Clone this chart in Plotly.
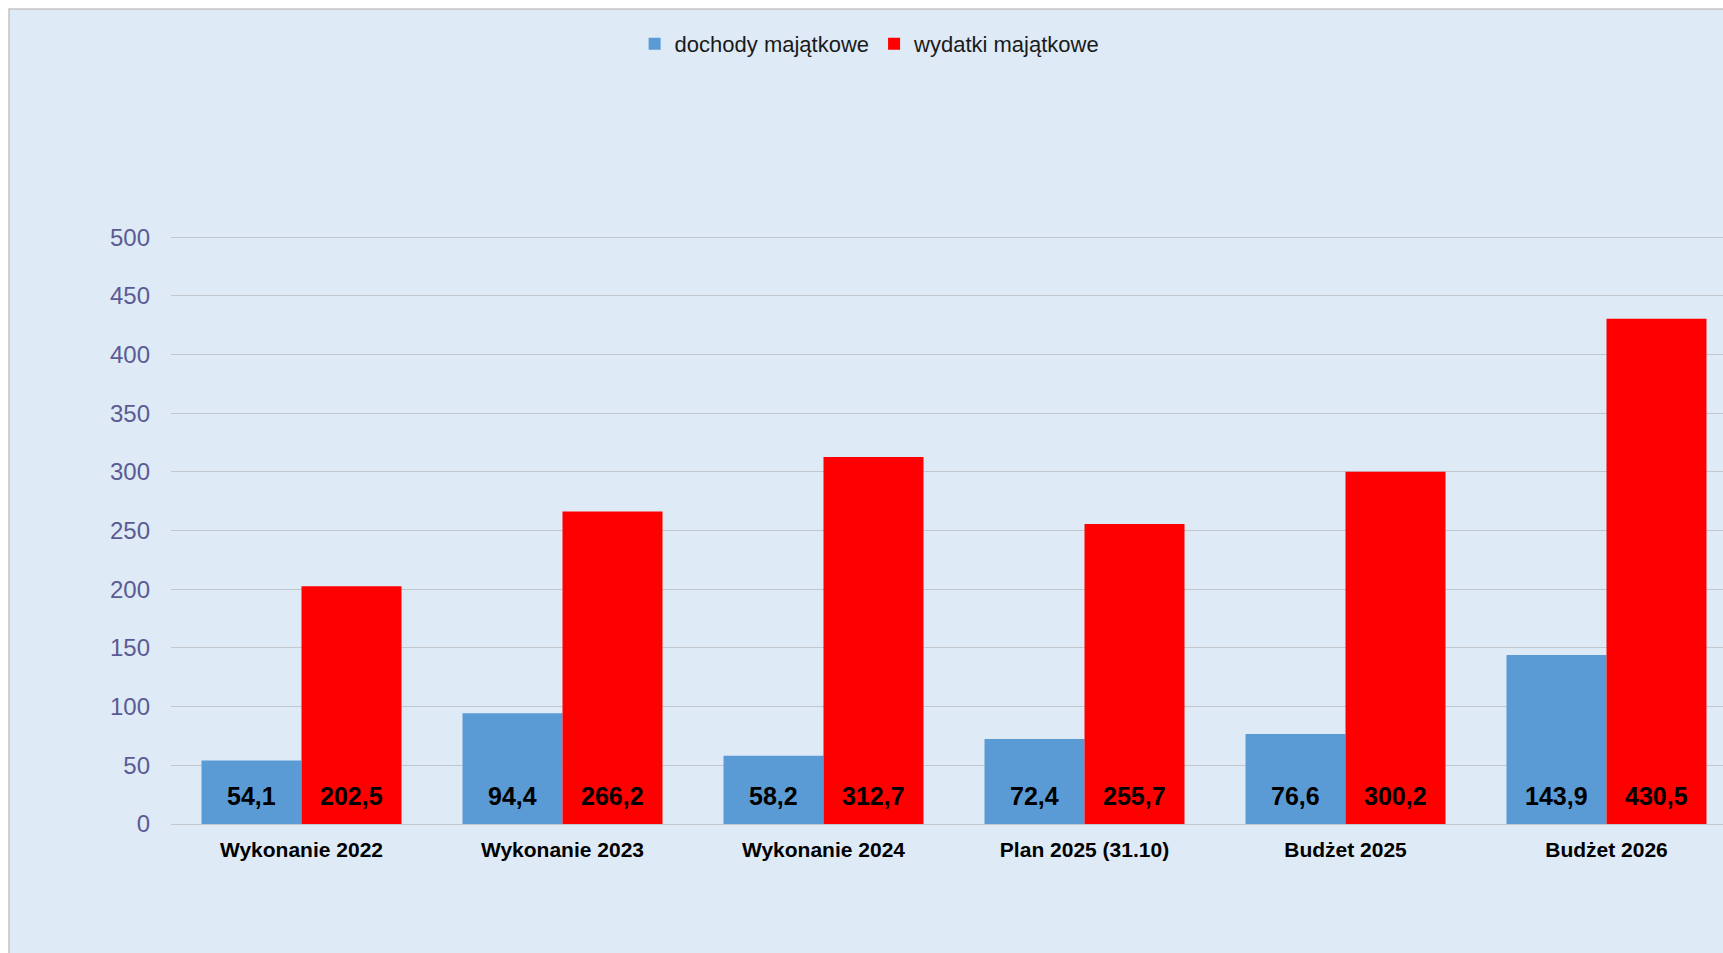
import plotly.graph_objects as go

# ---------------------------------------------------------------------------
# Dane
# ---------------------------------------------------------------------------
categories = [
    "Wykonanie 2022",
    "Wykonanie 2023",
    "Wykonanie 2024",
    "Plan 2025 (31.10)",
    "Budżet 2025",
    "Budżet 2026",
]
dochody = [54.1, 94.4, 58.2, 72.4, 76.6, 143.9]
wydatki = [202.5, 266.2, 312.7, 255.7, 300.2, 430.5]
y_ticks = [0, 50, 100, 150, 200, 250, 300, 350, 400, 450, 500]

# ---------------------------------------------------------------------------
# Wygląd
# ---------------------------------------------------------------------------
W, H = 1723, 953
M_L, M_R, M_T, M_B = 171, 0, 236, 129
FONT = "Arial, Liberation Sans, sans-serif"
BG = "#DEEAF6"
GRID = "#C3C7CC"
CAT_PX = 261          # szerokość kategorii w pikselach
BAR_PX = 100          # szerokość pojedynczego słupka

plot_w = W - M_L - M_R
plot_h = H - M_T - M_B


def px_to_paper_x(px):
    return (px - M_L) / plot_w


def px_to_paper_y(py):
    return (H - M_B - py) / plot_h


series = [
    ("dochody majątkowe", dochody, "#5B9BD5", -BAR_PX / 2),
    ("wydatki majątkowe", wydatki, "#FF0000", BAR_PX / 2),
]

fig = go.Figure()
for name, vals, color, shift in series:
    fig.add_trace(go.Bar(
        name=name,
        x=categories,
        y=vals,
        marker_color=color,
        marker_line_width=0,
        hoverinfo="skip",
    ))
    # etykiety wartości przy podstawie słupków
    for cat, v in zip(categories, vals):
        fig.add_annotation(
            x=cat, y=0, xref="x", yref="y",
            text=f"{v:.1f}".replace(".", ","),
            showarrow=False,
            xshift=shift, yshift=28,
            xanchor="center", yanchor="middle",
            font=dict(family=FONT, size=25, color="black", weight="bold"),
        )

# tło wykresu z ramką
fig.add_shape(
    type="rect", xref="paper", yref="paper",
    x0=px_to_paper_x(9), x1=px_to_paper_x(W + 20),
    y0=px_to_paper_y(H + 20), y1=px_to_paper_y(9),
    fillcolor=BG, line=dict(color="#C4C4C4", width=1.5),
    layer="below",
)

fig.update_layout(
    width=W, height=H,
    margin=dict(l=M_L, r=M_R, t=M_T, b=M_B, pad=0),
    paper_bgcolor="white",
    plot_bgcolor="rgba(0,0,0,0)",
    barmode="group",
    bargap=1 - 2 * BAR_PX / CAT_PX,
    bargroupgap=0,
    font=dict(family=FONT, color="#222"),
    showlegend=True,
    legend=dict(
        orientation="h",
        xref="container", yref="container",
        x=0.505, xanchor="center",
        y=1 - 44 / H, yanchor="middle",
        font=dict(family=FONT, size=22, color="#1A1A1A"),
        bgcolor="rgba(0,0,0,0)",
        itemwidth=30,
    ),
    xaxis=dict(
        range=[-0.5, -0.5 + plot_w / CAT_PX],
        showgrid=False,
        showline=False,
        zeroline=False,
        ticks="",
        tickfont=dict(family=FONT, size=21, color="black", weight="bold"),
        ticklabelstandoff=11,
    ),
    yaxis=dict(
        range=[0, 501],
        tickvals=y_ticks,
        showgrid=True,
        gridcolor=GRID,
        gridwidth=1,
        zeroline=True,
        zerolinecolor=GRID,
        zerolinewidth=1,
        showline=False,
        ticks="",
        tickfont=dict(family=FONT, size=24, color="#5B5B94"),
        ticklabelstandoff=20,
    ),
)

# bez domyślnego marginesu strony, żeby wykres wypełnił całe okno
fig.write_html(
    "out.html",
    config={"displayModeBar": False},
    post_script="document.body.style.margin='0';",
)
